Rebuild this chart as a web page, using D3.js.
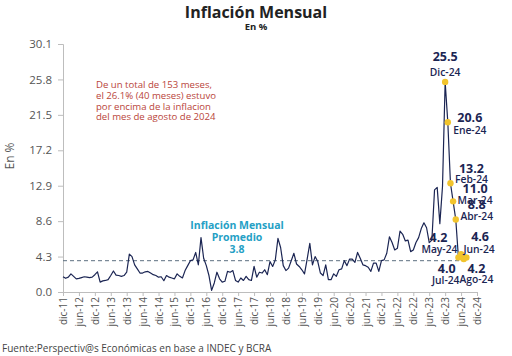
<!DOCTYPE html>
<html>
<head>
<meta charset="utf-8">
<script src="https://cdn.jsdelivr.net/npm/d3@7"></script>
<style>
  html, body { margin: 0; padding: 0; background: #ffffff; }
  svg { display: block; font-family: "Open Sans", "Noto Sans", sans-serif; }
</style>
</head>
<body>
<svg id="chart" width="512" height="356"></svg>
<script>
// ---------------- DATA ----------------
// Monthly inflation, dic-11 .. ago-24 (153 months)
const values2011to2016 = [
  1.86,1.66,1.8,2.2,1.9,1.6,1.65,1.75,1.85,1.8,1.75,1.8,
  2.1,2.45,1.2,1.35,1.4,1.5,2.0,2.55,2.05,2.0,1.9,2.0,
  2.4,4.6,4.3,3.3,2.8,2.3,2.3,2.45,2.5,2.3,2.1,2.0,
  1.8,1.85,1.37,2.0,1.8,1.7,1.6,2.2,1.9,1.7,2.6,3.2,
  3.8,3.9,4.8,3.3,6.6,4.1,3.2,2.0,0.2,1.1,2.4,1.6,
  1.2
];
const values2017 = [1.3,2.5,2.4,2.6,1.4,1.2,1.7,1.4,1.9,1.5,1.4,3.1];
const values2018 = [1.8,2.4,2.3,2.7,2.1,3.7,3.1,3.9,6.5,5.4,3.2,2.6];
const values2019 = [2.9,3.8,4.7,3.4,3.1,2.7,2.2,4.0,5.9,3.3,4.3,3.7];
const values2020 = [2.3,2.0,3.3,1.5,1.5,2.2,1.9,2.7,2.8,3.8,3.2,4.0];
const values2021 = [4.0,3.6,4.8,4.1,3.3,3.2,3.0,2.5,3.5,3.5,2.5,3.8];
const values2022 = [3.9,4.7,6.7,6.0,5.1,5.3,7.4,7.0,6.2,6.3,4.9,5.1];
const values2023 = [6.0,6.6,7.7,8.4,7.8,6.0,6.3,12.4,12.7,8.3,12.8,25.5];
const values2024 = [20.6,13.2,11.0,8.8,4.2,4.6,4.0,4.2];

const values = [].concat(values2011to2016, values2017, values2018, values2019,
  values2020, values2021, values2022, values2023, values2024);

const averageValue = 3.8;

// Highlighted points (index into values) and their labels as shown
const highlightIndex = [144,145,146,147,148,149,150,151,152];
const highlightMonthLabels = ["Dic-24","Ene-24","Feb-24","Mar-24","Abr-24","May-24","Jun-24","Jul-24","Ago-24"];

// X tick labels (every 6 months from dic-11 to dic-24)
const xTickLabels = ["dic-11","jun-12","dic-12","jun-13","dic-13","jun-14","dic-14","jun-15","dic-15",
  "jun-16","dic-16","jun-17","dic-17","jun-18","dic-18","jun-19","dic-19","jun-20","dic-20",
  "jun-21","dic-21","jun-22","dic-22","jun-23","dic-23","jun-24","dic-24"];
const yTickValues = [0, 4.3, 8.6, 12.9, 17.2, 21.5, 25.8, 30.1];

const noteLines = ["De un total de 153 meses,", "el 26.1% (40 meses) estuvo",
  "por encima de la inflacion", "del mes de agosto de 2024"];
const avgLabelLines = ["Inflación Mensual", "Promedio", "3.8"];

// ---------------- LAYOUT ----------------
const labelOffsets = [ // [dxValue, dyValue, dxMonth, dyMonth]
  [0,-25,0,-10],[22,-5,22,8],[21,-15,21,-4],[22,-13,22,-1],[21,-15,21,-3],
  [-20,-20,-19,-8],[19,-17,18,-5],[-17,10,-18,21],[10,11,10,22]
];

const svg = d3.select("#chart");
const x = d3.scaleLinear().domain([0, (xTickLabels.length - 1) * 6]).range([63, 477]);
const y = d3.scaleLinear().domain([0, 30.1]).range([292, 44]);

const navy = "#1b2553";
const axisGrey = "#bdbdbd";
const textGrey = "#555555";

// Title
svg.append("text").attr("x", 256).attr("y", 18).attr("text-anchor", "middle")
  .attr("font-size", 16).attr("font-weight", 700).attr("fill", "#222")
  .text("Inflación Mensual");
svg.append("text").attr("x", 256).attr("y", 30).attr("text-anchor", "middle")
  .attr("font-size", 9.5).attr("font-weight", 700).attr("fill", "#222")
  .text("En %");

// Y axis
const yAxis = svg.append("g").attr("transform", "translate(63,0)")
  .call(d3.axisLeft(y).tickValues(yTickValues).tickFormat(d3.format(".1f")).tickSize(5).tickPadding(6));
yAxis.select(".domain").attr("stroke", axisGrey);
yAxis.selectAll(".tick line").attr("stroke", axisGrey);
yAxis.selectAll(".tick text").attr("font-size", 11.5).attr("fill", textGrey)
  .attr("font-family", "'Open Sans', sans-serif");

svg.append("text").attr("transform", "translate(14,156) rotate(-90)")
  .attr("text-anchor", "middle").attr("font-size", 12).attr("fill", textGrey)
  .text("En %");

// X axis
const xAxis = svg.append("g").attr("transform", "translate(0,292)")
  .call(d3.axisBottom(x).tickValues(d3.range(0, xTickLabels.length * 6, 6))
    .tickFormat((d, i) => xTickLabels[i]).tickSize(4).tickPadding(4));
xAxis.select(".domain").attr("stroke", axisGrey);
xAxis.selectAll(".tick line").attr("stroke", axisGrey);
xAxis.selectAll(".tick text").attr("font-size", 10).attr("fill", textGrey)
  .attr("text-anchor", "end").attr("transform", "rotate(-90)")
  .attr("x", -5).attr("y", 0).attr("dy", "0.35em").attr("dx", 0)
  .attr("font-family", "'Open Sans', sans-serif");

// Average dashed line
svg.append("line")
  .attr("x1", x(0)).attr("x2", x(values.length - 1))
  .attr("y1", y(averageValue)).attr("y2", y(averageValue))
  .attr("stroke", "#5d6f80").attr("stroke-width", 1).attr("stroke-dasharray", "4,3");

// Line
const line = d3.line().x((d, i) => x(i)).y(d => y(d));
svg.append("path").datum(values).attr("d", line)
  .attr("fill", "none").attr("stroke", navy).attr("stroke-width", 1.2)
  .attr("stroke-linejoin", "round");

// Highlight dots
svg.selectAll("circle.hl").data(highlightIndex).enter().append("circle")
  .attr("class", "hl")
  .attr("cx", d => x(d)).attr("cy", d => y(values[d])).attr("r", 3.2)
  .attr("fill", "#f2c42c");

// Highlight labels
highlightIndex.forEach((idx, k) => {
  const px = x(idx), py = y(values[idx]);
  const o = labelOffsets[k];
  svg.append("text").attr("x", px + o[0]).attr("y", py + o[1]).attr("dy", "0.35em")
    .attr("text-anchor", "middle").attr("font-size", 12.5).attr("font-weight", 700)
    .attr("fill", navy).text(d3.format(".1f")(values[idx]));
  svg.append("text").attr("x", px + o[2]).attr("y", py + o[3]).attr("dy", "0.35em")
    .attr("text-anchor", "middle").attr("font-size", 10.3).attr("font-weight", 600)
    .attr("fill", navy).text(highlightMonthLabels[k]);
});

// Note (red)
svg.append("g").selectAll("text").data(noteLines).enter().append("text")
  .attr("x", 96).attr("y", (d, i) => 85 + i * 10.7).attr("dy", "0.35em")
  .attr("font-size", 9.6).attr("fill", "#b9453a").text(d => d);

// Average label (teal)
svg.append("g").selectAll("text").data(avgLabelLines).enter().append("text")
  .attr("x", 237).attr("y", (d, i) => 225 + i * 12).attr("dy", "0.35em")
  .attr("text-anchor", "middle").attr("font-size", 10.5).attr("font-weight", 700)
  .attr("fill", "#25a0c5").text(d => d);

// Footer
svg.append("text").attr("x", 2).attr("y", 348).attr("dy", "0.35em")
  .attr("font-size", 10).attr("fill", "#444")
  .text("Fuente:Perspectiv@s Económicas en base a INDEC y BCRA");
</script>
</body>
</html>
